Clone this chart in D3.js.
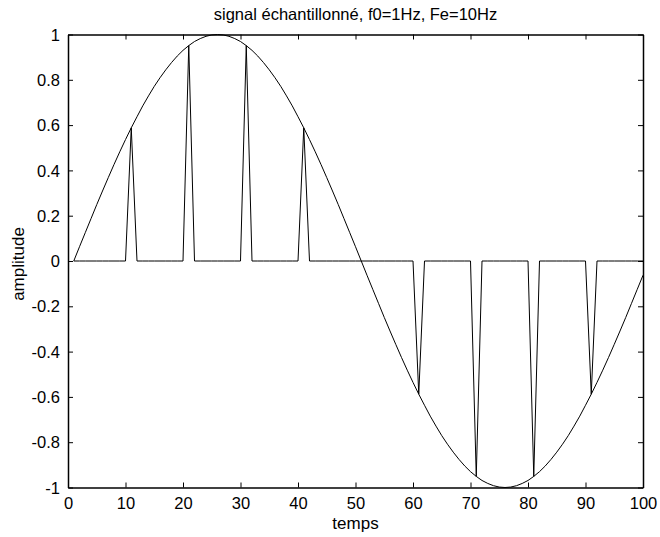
<!DOCTYPE html>
<html>
<head>
<meta charset="utf-8">
<script src="https://cdn.jsdelivr.net/npm/d3@7"></script>
<style>
  body { margin: 0; background: #fff; }
  text { font-family: "Liberation Sans", Arial, Helvetica, sans-serif; fill: #000; }
</style>
</head>
<body>
<div id="chart"></div>
<script>
// continuous signal, one value per index 1..100
const signalValues = [
  0.000, 0.063, 0.125, 0.187, 0.249, 0.309, 0.368, 0.426, 0.482, 0.536,
  0.588, 0.637, 0.685, 0.729, 0.771, 0.809, 0.844, 0.876, 0.905, 0.930,
  0.951, 0.969, 0.982, 0.992, 0.998, 1.000, 0.998, 0.992, 0.982, 0.969,
  0.951, 0.930, 0.905, 0.876, 0.844, 0.809, 0.771, 0.729, 0.685, 0.637,
  0.588, 0.536, 0.482, 0.426, 0.368, 0.309, 0.249, 0.187, 0.125, 0.063,
  0.000, -0.063, -0.125, -0.187, -0.249, -0.309, -0.368, -0.426, -0.482, -0.536,
  -0.588, -0.637, -0.685, -0.729, -0.771, -0.809, -0.844, -0.876, -0.905, -0.930,
  -0.951, -0.969, -0.982, -0.992, -0.998, -1.000, -0.998, -0.992, -0.982, -0.969,
  -0.951, -0.930, -0.905, -0.876, -0.844, -0.809, -0.771, -0.729, -0.685, -0.637,
  -0.588, -0.536, -0.482, -0.426, -0.368, -0.309, -0.249, -0.187, -0.125, -0.063
];

// sampled points (Fe = 10Hz), zero elsewhere
const sampleIdx = [1, 11, 21, 31, 41, 51, 61, 71, 81, 91];
const sampleValues = [0, 0.588, 0.951, 0.951, 0.588, 0, -0.588, -0.951, -0.951, -0.588];

const xTicks = [0, 10, 20, 30, 40, 50, 60, 70, 80, 90, 100];
const yTicks = [-1, -0.8, -0.6, -0.4, -0.2, 0, 0.2, 0.4, 0.6, 0.8, 1];

const titleText = 'signal échantillonné, f0=1Hz, Fe=10Hz';
const xLabel = 'temps';
const yLabel = 'amplitude';

const width = 660, height = 537;
const margin = { left: 68, right: 17, top: 34.5, bottom: 49.5 };

const svg = d3.select('#chart').append('svg')
    .attr('width', width)
    .attr('height', height);

const x = d3.scaleLinear().domain([0, 100]).range([margin.left, width - margin.right]);
const y = d3.scaleLinear().domain([-1, 1]).range([height - margin.bottom, margin.top]);

// build series
const signal = signalValues.map((v, i) => ({ t: i + 1, v: v }));
const sampled = signalValues.map((v, i) => {
    const k = sampleIdx.indexOf(i + 1);
    return { t: i + 1, v: k >= 0 ? sampleValues[k] : 0 };
});

const line = d3.line().x(d => x(d.t)).y(d => y(d.v));

svg.append('path')
    .datum(signal)
    .attr('d', line)
    .attr('fill', 'none')
    .attr('stroke', '#000')
    .attr('stroke-width', 1);

svg.append('path')
    .datum(sampled)
    .attr('d', line)
    .attr('fill', 'none')
    .attr('stroke', '#000')
    .attr('stroke-width', 1);

// axes (box with inward ticks)
const tickLen = 5;
const fmt = d => String(d);

const xAxisB = svg.append('g')
    .attr('transform', `translate(0,${y(-1)})`)
    .call(d3.axisBottom(x).tickValues(xTicks).tickFormat(fmt).tickSizeInner(-tickLen).tickSizeOuter(0).tickPadding(10));
const xAxisT = svg.append('g')
    .attr('transform', `translate(0,${y(1)})`)
    .call(d3.axisTop(x).tickValues(xTicks).tickFormat('').tickSizeInner(-tickLen).tickSizeOuter(0));
const yAxisL = svg.append('g')
    .attr('transform', `translate(${x(0)},0)`)
    .call(d3.axisLeft(y).tickValues(yTicks).tickFormat(fmt).tickSizeInner(-tickLen).tickSizeOuter(0).tickPadding(8));
const yAxisR = svg.append('g')
    .attr('transform', `translate(${x(100)},0)`)
    .call(d3.axisRight(y).tickValues(yTicks).tickFormat('').tickSizeInner(-tickLen).tickSizeOuter(0));

[xAxisB, xAxisT, yAxisL, yAxisR].forEach(g => {
    g.select('.domain').attr('stroke', '#000').attr('stroke-width', 1.5);
    g.selectAll('.tick line').attr('stroke', '#000');
    g.selectAll('text')
        .attr('font-family', '"Liberation Sans", Arial, sans-serif')
        .attr('font-size', 16.5)
        .attr('fill', '#000');
});
yAxisL.selectAll('text').attr('dy', '0.34em');

svg.append('text')
    .attr('x', (x(0) + x(100)) / 2)
    .attr('y', 20)
    .attr('text-anchor', 'middle')
    .attr('font-size', 16.5)
    .text(titleText);

svg.append('text')
    .attr('x', (x(0) + x(100)) / 2)
    .attr('y', 529)
    .attr('text-anchor', 'middle')
    .attr('font-size', 17)
    .text(xLabel);

svg.append('text')
    .attr('transform', `translate(24,${(y(1) + y(-1)) / 2 + 3}) rotate(-90)`)
    .attr('text-anchor', 'middle')
    .attr('font-size', 17)
    .text(yLabel);
</script>
</body>
</html>
